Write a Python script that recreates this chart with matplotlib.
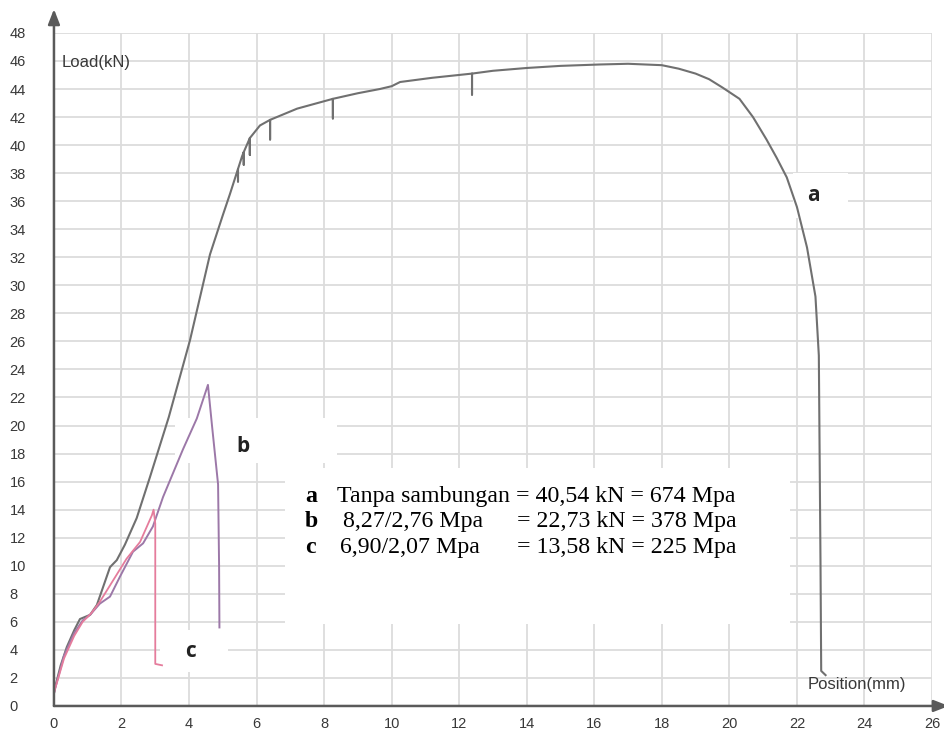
import numpy as np
import matplotlib
matplotlib.use('Agg')
import matplotlib.pyplot as plt
from matplotlib.patches import Rectangle

# Curve a - tanpa sambungan (gray)
a_x = [0.0, 0.03, 0.2, 0.38, 0.6, 0.77, 1.07, 1.27, 1.66, 1.86, 2.1, 2.45, 2.84, 3.4,
       4.03, 4.62, 5.0, 5.21, 5.45, 5.45, 5.45, 5.57, 5.62, 5.62, 5.62, 5.8, 5.8, 5.8,
       6.1, 6.4, 6.4, 6.4, 6.8, 7.2, 8.26, 8.26, 8.26, 9.0, 9.65, 10.0, 10.25, 11.2,
       12.38, 12.38, 12.38, 13.0, 14.0, 15.0, 16.17, 17.0, 18.0, 18.5, 19.0, 19.4, 19.8,
       20.3, 20.7, 21.1, 21.4, 21.7, 22.0, 22.3, 22.55, 22.65, 22.7, 22.72, 22.85]
a_y = [0.9, 1.3, 2.9, 4.2, 5.4, 6.2, 6.5, 7.2, 9.9, 10.4, 11.5, 13.4, 16.3, 20.6,
       26.1, 32.2, 35.0, 36.5, 38.3, 37.4, 38.3, 39.2, 39.5, 38.6, 39.5, 40.5, 39.3, 40.5,
       41.4, 41.8, 40.4, 41.8, 42.2, 42.6, 43.3, 41.9, 43.3, 43.7, 44.0, 44.2, 44.5, 44.8,
       45.1, 43.6, 45.1, 45.3, 45.5, 45.65, 45.75, 45.8, 45.7, 45.45, 45.1, 44.7, 44.1,
       43.3, 42.0, 40.4, 39.1, 37.7, 35.6, 32.7, 29.2, 25.0, 10.0, 2.5, 2.2]

# Curve b - 8,27/2,76 Mpa (purple)
b_x = [0.0, 0.03, 0.3, 0.6, 0.85, 1.07, 1.36, 1.66, 1.95, 2.34, 2.64, 2.93, 3.23,
       3.82, 4.23, 4.56, 4.68, 4.86, 4.89, 4.9]
b_y = [0.9, 1.2, 3.6, 5.2, 6.1, 6.5, 7.3, 7.8, 9.2, 11.0, 11.6, 12.8, 14.9,
       18.3, 20.5, 22.9, 20.0, 15.8, 10.0, 5.6]

# Curve c - 6,90/2,07 Mpa (pink)
c_x = [0.0, 0.03, 0.3, 0.6, 0.85, 1.1, 1.35, 1.66, 2.15, 2.55, 2.9, 2.95, 3.0, 3.0, 3.2]
c_y = [0.9, 1.2, 3.4, 5.0, 6.0, 6.6, 7.4, 8.6, 10.5, 11.7, 13.6, 14.0, 13.0, 3.0, 2.9]

x_ticks = list(range(0, 27, 2))
y_ticks = list(range(0, 49, 2))

legend_letters = ['a', 'b', 'c']
legend_left = ['Tanpa sambungan = 40,54 kN = 674 Mpa', '8,27/2,76 Mpa', '6,90/2,07 Mpa']
legend_right = ['', '= 22,73 kN = 378 Mpa', '= 13,58 kN = 225 Mpa']

grid_col = '#dcdcdc'
axis_col = '#5a5a5a'
text_col = '#383838'

fig = plt.figure(figsize=(9.45, 7.35), dpi=100)
ax = fig.add_axes([0.0571, 0.0395, 0.9291, 0.9157])
ax.set_xlim(0, 26)
ax.set_ylim(0, 48)
ax.set_xticks(x_ticks)
ax.set_yticks(y_ticks)
ax.grid(True, color=grid_col, linewidth=1.3, zorder=0)
ax.set_axisbelow(True)
for s in ax.spines.values():
    s.set_visible(False)

ax.tick_params(length=0, colors=text_col, labelsize=10.5)
ax.tick_params(axis='x', pad=8)
ax.tick_params(axis='y', pad=32)
for lab in ax.get_yticklabels():
    lab.set_horizontalalignment('left')
for lab in ax.get_xticklabels() + ax.get_yticklabels():
    lab.set_family('Liberation Sans')

# white patches left by the scan (label boxes)
for (x0, y0, w, h) in [(6.84, 5.85, 14.95, 11.13), (3.58, 17.33, 4.8, 3.2),
                       (3.14, 2.4, 2.0, 3.0), (21.88, 34.8, 1.63, 3.2)]:
    ax.add_patch(Rectangle((x0, y0), w, h, facecolor='white', edgecolor='none', zorder=1))

# curves
ax.plot(a_x, a_y, color='#707070', lw=1.5, zorder=3)
ax.plot(b_x, b_y, color='#9c78a8', lw=1.4, zorder=3)
ax.plot(c_x, c_y, color='#e57c9c', lw=1.3, zorder=3)

# axes with arrows
ax.annotate('', xy=(0, 49.7), xytext=(0, 0),
            arrowprops=dict(arrowstyle='-|>,head_length=0.9,head_width=0.35',
                            color=axis_col, lw=1.8, shrinkA=0, shrinkB=0),
            annotation_clip=False, zorder=5)
ax.annotate('', xy=(26.5, 0), xytext=(0, 0),
            arrowprops=dict(arrowstyle='-|>,head_length=0.9,head_width=0.35',
                            color=axis_col, lw=1.8, shrinkA=0, shrinkB=0),
            annotation_clip=False, zorder=5)

ax.text(0.24, 45.9, 'Load(kN)', family='Liberation Sans', fontsize=12,
        color=text_col, va='center', ha='left', zorder=4)
ax.text(23.78, 1.5, 'Position(mm)', family='Liberation Sans', fontsize=12,
        color=text_col, va='center', ha='center', zorder=4)

# curve labels
for lbl, lx, ly in [('a', 22.48, 36.4), ('b', 5.6, 18.5), ('c', 4.03, 3.85)]:
    ax.text(lx, ly, lbl, family='Open Sans', fontweight='bold', fontsize=15,
            color='#222222', ha='center', va='center', zorder=4)

# legend text block
rows_y = [14.55, 12.77, 10.91]
left_x = [8.38, 8.56, 8.47]
for i in range(3):
    ax.text(7.43, rows_y[i], legend_letters[i], family='Liberation Serif',
            fontweight='bold', fontsize=17.2, color='black', va='baseline', zorder=4)
    ax.text(left_x[i], rows_y[i], legend_left[i], family='Liberation Serif',
            fontsize=17.2, color='black', va='baseline', zorder=4)
    if legend_right[i]:
        ax.text(13.71, rows_y[i], legend_right[i], family='Liberation Serif',
                fontsize=17.2, color='black', va='baseline', zorder=4)

fig.savefig('out.png', dpi=100)
